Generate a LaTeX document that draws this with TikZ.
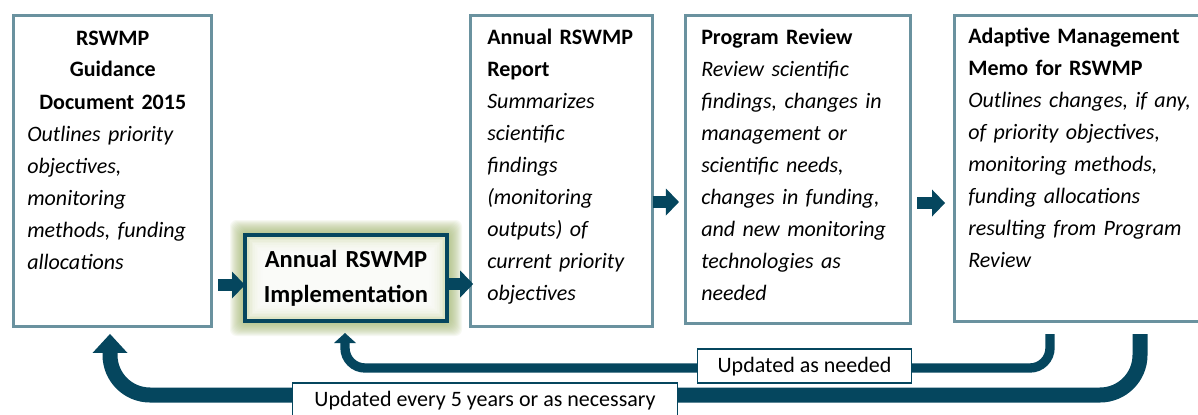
\documentclass[tikz,border=0pt]{standalone}
\usepackage{fontspec}
\setmainfont{Carlito}
\usetikzlibrary{arrows.meta,backgrounds}
\definecolor{boxline}{HTML}{6A929F}
\definecolor{dteal}{HTML}{05465E}
\definecolor{glowg}{HTML}{A3B872}
\definecolor{fillg}{HTML}{DEE5C6}
\begin{document}
\begin{tikzpicture}[x=0.75pt,y=-0.75pt,
  box/.style={draw=boxline,line width=2.25pt,outer sep=0pt,inner sep=0pt,anchor=north west},
  txt/.style={inner sep=0pt,anchor=base west,align=left,font=\fontsize{16.5}{24}\selectfont},
  blk/.style={draw=dteal,line width=9pt,-{Triangle[length=9.75pt,width=20.25pt,line width=0pt]}},
  fbbig/.style={draw=dteal,line width=11.25pt,rounded corners=30pt,-{Triangle[length=14.25pt,width=26.25pt,line width=0pt]}},
  fbsmall/.style={draw=dteal,line width=7pt,rounded corners=15pt,-{Triangle[length=7.5pt,width=16.5pt,line width=0pt]}},
  lab/.style={draw=dteal,line width=0.9pt,fill=white,font=\fontsize{16.5}{20}\selectfont,text height=11.25pt,text depth=2.25pt,inner ysep=6pt,inner xsep=0pt,anchor=base}
]
\clip (0,0) rectangle (1198,414);

% boxes
\node[box,minimum width=148.5pt,minimum height=233.25pt] (b1) at (13.5,15.5) {};
\node[box,draw=dteal,line width=3pt,minimum width=151.5pt,minimum height=64.5pt] (b2) at (245,235) {};
\node[box,minimum width=136.5pt,minimum height=233.25pt] (b3) at (470.5,15.5) {};
\node[box,minimum width=168.75pt,minimum height=231pt] (b4) at (685.5,15.5) {};
\node[box,minimum width=206.25pt,minimum height=229.5pt] (b5) at (954.5,15.5) {};

% texts
\node[txt,text width=128.25pt] (t1) at (27,45) {{\centering\bfseries RSWMP\\Guidance\\Document 2015\par}\itshape Outlines priority\\objectives,\\monitoring\\methods, funding\\allocations};
\node[inner sep=0pt,anchor=base,align=center,text width=150pt,font=\fontsize{18.4}{26.25}\selectfont\bfseries] (t2) at (346,267) {Annual RSWMP\\Implementation};
\node[txt,text width=125pt] (t3) at (487,44) {\textbf{Annual RSWMP}\\\textbf{Report}\\\textit{Summarizes}\\\textit{scientific}\\\textit{findings}\\\textit{(monitoring}\\\textit{outputs) of}\\\textit{current priority}\\\textit{objectives}};
\node[txt,text width=160pt] (t4) at (701,44) {\textbf{Program Review}\\\textit{Review scientific}\\\textit{findings, changes in}\\\textit{management or}\\\textit{scientific needs,}\\\textit{changes in funding,}\\\textit{and new monitoring}\\\textit{technologies as}\\\textit{needed}};
\node[txt,text width=178pt] (t5) at (968,43) {\textbf{Adaptive Management}\\\textbf{Memo for RSWMP}\\\textit{Outlines changes, if any,}\\\textit{of priority objectives,}\\\textit{monitoring methods,}\\\textit{funding allocations}\\\textit{resulting from Program}\\\textit{Review}};

% forward block arrows
\draw[blk,shorten <=4.9pt] (b1.east |- 0,285) -- (b2.west |- 0,285);
\draw[blk,shorten <=1.5pt,shorten >=-2pt] (b2.east |- 0,284) -- (b3.west |- 0,284);
\draw[blk,shorten >=4.9pt] (b3.east |- 0,202) -- (b4.west |- 0,202);
\draw[blk,shorten <=4.9pt,shorten >=7.1pt] (b4.east |- 0,203) -- (b5.west |- 0,203);

% feedback arrows
\coordinate (s1) at ([yshift=-9.4pt]b5.south -| 1140,0);
\coordinate (s2) at ([yshift=-9.4pt]b5.south -| 1050,0);
\coordinate (e1) at ([yshift=-5.6pt]b1.south);
\coordinate (e2) at ([yshift=-9pt]b2.south);
\draw[fbbig] (s1) -- (s1 |- 0,395) -- (110,395) -- (e1 -| 110,0);
\draw[fbsmall] (s2) -- (s2 |- 0,368) -- (345,368) -- (e2 -| 345,0);

% labels
\node[lab,minimum width=160pt] (l1) at (804.5,372) {Updated as needed};
\node[lab,minimum width=289pt] (l2) at (485,406) {Updated every 5 years or as necessary};

% background, glow and fill of the highlighted box
\begin{scope}[on background layer]
\fill[white] (0,0) rectangle (1198,414);
\foreach \i in {1,...,15}{
  \fill[glowg,opacity=0.085,rounded corners=5pt] ([shift={(-\i,-\i)}]b2.north west) rectangle ([shift={(\i,\i)}]b2.south east);
}
\fill[fillg] (b2.north west) rectangle (b2.south east);
\foreach \i in {1,...,10}{
  \fill[white,opacity=0.22] ([shift={(2+\i*1.6,2+\i*1.6)}]b2.north west) rectangle ([shift={(-2-\i*1.6,-2-\i*1.6)}]b2.south east);
}
\end{scope}
\end{tikzpicture}
\end{document}
